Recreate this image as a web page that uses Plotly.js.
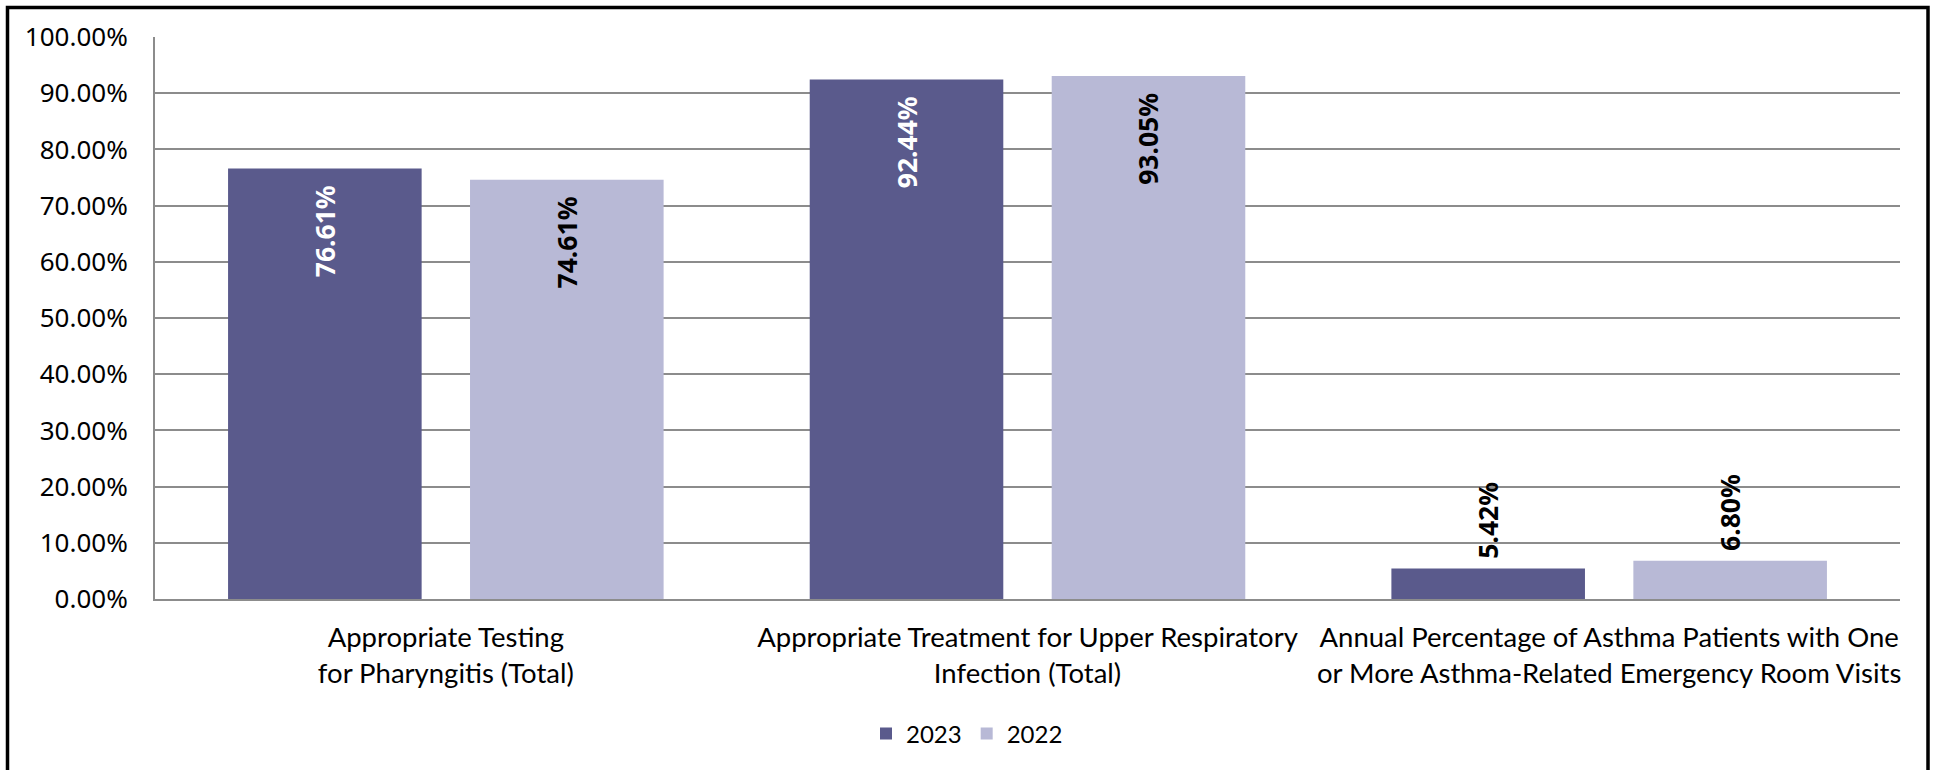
<!DOCTYPE html>
<html>
<head>
<meta charset="utf-8">
<script src="https://cdn.plot.ly/plotly-3.0.1.min.js"></script>
<style>
  html, body { margin: 0; padding: 0; background: #ffffff; }
  #chart { width: 1937px; height: 770px; }
</style>
</head>
<body>
<div id="chart"></div>
<script>
// ---- data ----
const categories = [
  "Appropriate Testing<br>for Pharyngitis (Total)",
  "Appropriate Treatment for Upper Respiratory<br>Infection (Total)",
  "Annual Percentage of Asthma Patients with One<br>or More Asthma-Related Emergency Room Visits"
];
const series2023 = [0.7661, 0.9244, 0.0542];
const series2022 = [0.7461, 0.9305, 0.0680];
const seriesNames = ["2023", "2022"];
const yTickVals = [0, 0.1, 0.2, 0.3, 0.4, 0.5, 0.6, 0.7, 0.8, 0.9, 1.0];
const yTickText = ["0.00%", "10.00%", "20.00%", "30.00%", "40.00%", "50.00%", "60.00%", "70.00%", "80.00%", "90.00%", "100.00%"];

// ---- styling ----
const NB = "\u00a0";
function labelPos(v) { return v < 0.2 ? "outside" : "inside"; }
function labelTpl(v) {
  return v < 0.2 ? NB + "%{y:.2%}" : "%{y:.2%}" + NB + NB;
}

function makeTrace(name, values, color, insideColor) {
  return {
    type: "bar",
    name: name,
    x: categories,
    y: values,
    marker: { color: color, line: { width: 0 } },
    textposition: values.map(labelPos),
    texttemplate: values.map(labelTpl),
    textangle: -90,
    insidetextanchor: "end",
    constraintext: "none",
    cliponaxis: false,
    insidetextfont: { family: "Noto Sans", size: 26.5, color: insideColor, weight: "bold" },
    outsidetextfont: { family: "Noto Sans", size: 26.5, color: "#000000", weight: "bold" },
    hoverinfo: "skip"
  };
}

const data = [
  makeTrace(seriesNames[0], series2023, "#5a5a8c", "#ffffff"),
  makeTrace(seriesNames[1], series2022, "#b8b9d6", "#000000")
];

// border frame (paper coords relative to plot area)
const L = 155, R = 1900, T = 37, B = 599;
const px = v => (v - L) / (R - L);
const py = v => (B - v) / (B - T);

const layout = {
  width: 1937,
  height: 770,
  margin: { l: L, r: 1937 - R, t: T, b: 770 - B, pad: 0 },
  paper_bgcolor: "#ffffff",
  plot_bgcolor: "#ffffff",
  barmode: "group",
  bargap: 0.168,
  bargroupgap: 0.2,
  showlegend: true,
  legend: {
    orientation: "h",
    x: px(866),
    xanchor: "left",
    y: py(734),
    yanchor: "middle",
    font: { family: "Lato", size: 24, color: "#000000" },
    traceorder: "normal",
    bgcolor: "rgba(0,0,0,0)"
  },
  xaxis: {
    type: "category",
    showgrid: false,
    showline: true,
    linecolor: "#8c8c8c",
    linewidth: 2,
    ticks: "",
    ticklabelstandoff: 13,
    tickfont: { family: "Lato", size: 27.5, color: "#000000" },
    fixedrange: true
  },
  yaxis: {
    range: [0, 1],
    tickvals: yTickVals,
    ticktext: yTickText,
    showgrid: true,
    gridcolor: "#8c8c8c",
    gridwidth: 2,
    zeroline: false,
    showline: true,
    linecolor: "#8c8c8c",
    linewidth: 2,
    ticks: "",
    ticklabelstandoff: 20,
    tickfont: { family: "Noto Sans", size: 26, color: "#000000" },
    fixedrange: true
  },
  shapes: [
    {
      type: "path",
      xref: "paper",
      yref: "paper",
      path: "M" + px(7.5) + "," + py(790) + " L" + px(7.5) + "," + py(7.5) +
            " L" + px(1928) + "," + py(7.5) + " L" + px(1928) + "," + py(790),
      line: { color: "#000000", width: 3.5 },
      fillcolor: "rgba(0,0,0,0)",
      layer: "above"
    }
  ]
};

Plotly.newPlot("chart", data, layout, { displayModeBar: false, staticPlot: true });
</script>
</body>
</html>
